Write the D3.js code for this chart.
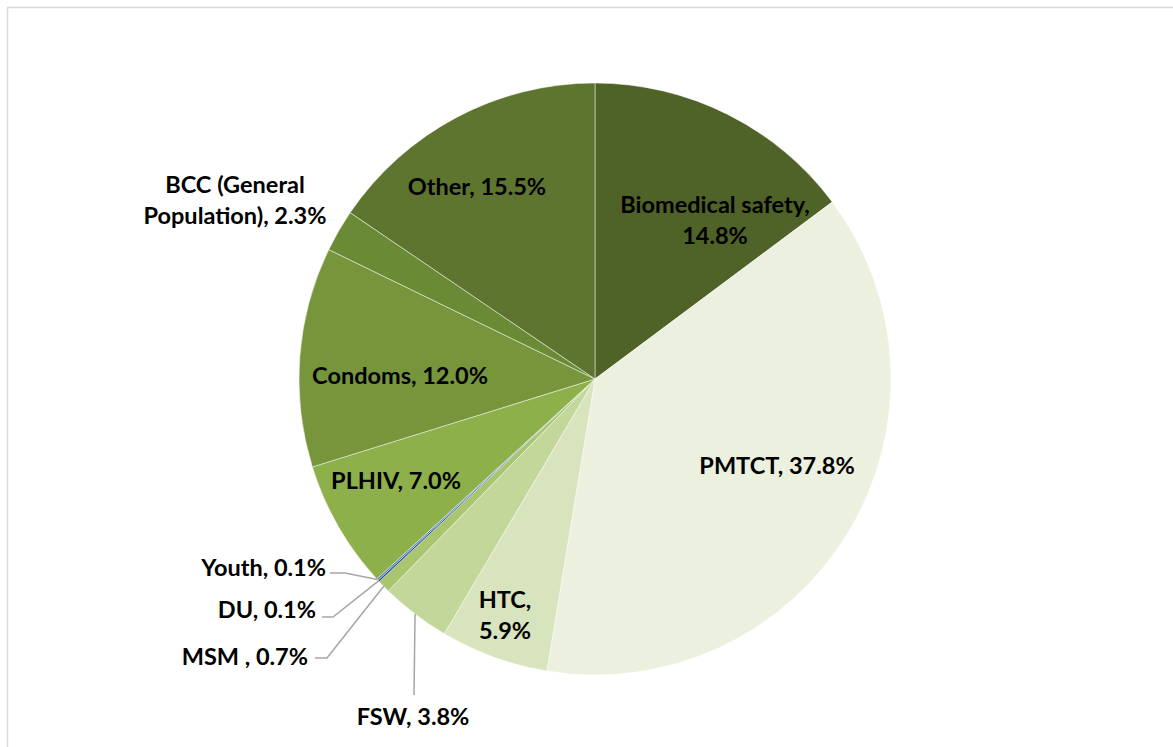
<!DOCTYPE html>
<html><head><meta charset="utf-8">
<script src="https://cdn.jsdelivr.net/npm/d3@7"></script>
<style>body{margin:0;background:#fff}svg{display:block}text{font-family:Lato,"Open Sans",sans-serif;font-weight:700;fill:#000}</style>
</head><body><svg id="c" width="1173" height="747"></svg>
<script>
const categories = ["Biomedical safety","PMTCT","HTC","FSW","MSM ","DU","Youth","PLHIV","Condoms","BCC (General Population)","Other"];
const values = [14.8,37.8,5.9,3.8,0.7,0.1,0.1,7.0,12.0,2.3,15.5];
const colors = ["#4f6228","#ebf1de","#d7e4bd","#c4d79b","#a9c66f","#1f497d","#4f81bd","#8db04a","#77963c","#6a8a35","#5e7530"];
// label layout: lines, anchor position, text-anchor, optional leader elbow
const labelLayout = [
  {lines:["Biomedical safety,","14.8%"], x:715, y:205, anchor:"middle"},
  {lines:["PMTCT, 37.8%"], x:777, y:466, anchor:"middle"},
  {lines:["HTC,","5.9%"], x:505, y:600, anchor:"middle"},
  {lines:["FSW, 3.8%"], x:413, y:717, anchor:"middle", leader:[[414,695]]},
  {lines:["MSM , 0.7%"], x:308, y:657, anchor:"end", leader:[[315,658],[327,658]]},
  {lines:["DU, 0.1%"], x:316, y:610, anchor:"end", leader:[[322,617],[333,617]]},
  {lines:["Youth, 0.1%"], x:326, y:568, anchor:"end", leader:[[330,573],[345,573]]},
  {lines:["PLHIV, 7.0%"], x:396, y:481, anchor:"middle"},
  {lines:["Condoms, 12.0%"], x:400, y:376, anchor:"middle"},
  {lines:["BCC (General","Population), 2.3%"], x:235, y:185, anchor:"middle"},
  {lines:["Other, 15.5%"], x:477, y:187, anchor:"middle"}
];
const svg = d3.select("#c");
svg.append("rect").attr("x",7.5).attr("y",7.5).attr("width",1200).attr("height",800)
  .attr("fill","none").attr("stroke","#d9d9d9").attr("stroke-width",1.5);
const cx=595, cy=379, R=296;
const pie = d3.pie().sort(null).value(d=>d)(values);
const arc = d3.arc().innerRadius(0).outerRadius(R);
const g = svg.append("g").attr("transform",`translate(${cx},${cy})`);
g.selectAll("path").data(pie).join("path").attr("d",arc)
  .attr("fill",(d,i)=>colors[i]).attr("stroke","#ffffff").attr("stroke-opacity",0.6).attr("stroke-width",0.8);
const lh = 31;
pie.forEach((d,i)=>{
  const L = labelLayout[i];
  if(L.leader){
    const a=(d.startAngle+d.endAngle)/2;
    const ex=cx+R*Math.sin(a), ey=cy-R*Math.cos(a);
    const pts=L.leader.concat([[ex,ey]]);
    svg.append("path").attr("d",d3.line()(pts)).attr("fill","none").attr("stroke","#a6a6a6").attr("stroke-width",1.5);
  }
  const t=svg.append("text").attr("text-anchor",L.anchor).attr("font-size",23.5);
  L.lines.forEach((s,j)=>t.append("tspan").attr("x",L.x).attr("y",L.y+j*lh).attr("dy","0.35em").text(s));
});
</script></body></html>
